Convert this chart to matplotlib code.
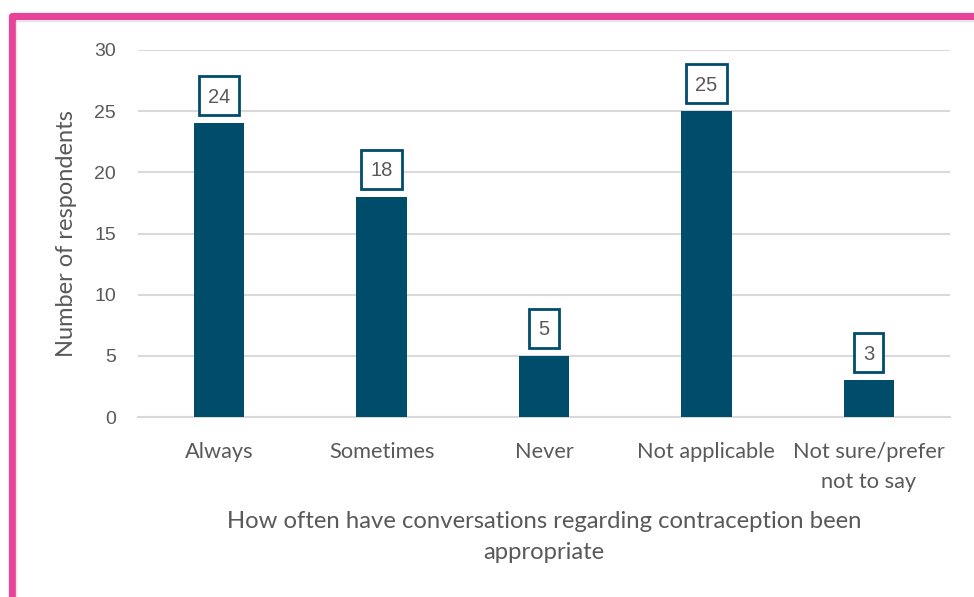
import matplotlib
matplotlib.use("Agg")
import matplotlib.pyplot as plt
from matplotlib.patches import Rectangle
from matplotlib.transforms import IdentityTransform

categories = ["Always", "Sometimes", "Never", "Not applicable", "Not sure/prefer\nnot to say"]
values = [24, 18, 5, 25, 3]
y_ticks = [0, 5, 10, 15, 20, 25, 30]

bar_color = "#004C6B"
text_color = "#595959"
grid_color = "#D9D9D9"
frame_color = "#E8439A"

W, H = 974, 597
fig = plt.figure(figsize=(W / 100, H / 100), dpi=100)
fig.patch.set_facecolor("white")

# pink frame around the chart (open on right/bottom, clipped by the canvas)
fig.patches.append(Rectangle((11.5 / W, -0.2), 1.2, (H - 15.5) / H + 0.2,
                             transform=fig.transFigure, fill=False,
                             ec=frame_color, lw=5.2, joinstyle="round"))
fig.patches.append(Rectangle((16 / W, -0.2), 1.2, (H - 21) / H + 0.2,
                             transform=fig.transFigure, fill=False,
                             ec="#E4E4E4", lw=1.0))

left, right, top, bottom = 138, 950, 50, 417
ax = fig.add_axes([left / W, (H - bottom) / H, (right - left) / W, (bottom - top) / H])

x = list(range(len(categories)))
ax.bar(x, values, width=0.31, color=bar_color, zorder=3)

ax.set_xlim(-0.5, len(categories) - 0.5)
ax.set_ylim(0, 30)
ax.set_yticks(y_ticks)
ax.set_xticks(x)
ax.set_xticklabels(categories, fontsize=15.7, color=text_color, family="Lato",
                   linespacing=1.62)
for lbl in ax.get_yticklabels():
    lbl.set_fontfamily("Liberation Sans")
ax.tick_params(axis="y", labelsize=14, colors=text_color, length=0, pad=16)
ax.tick_params(axis="x", length=0, pad=18)

ax.grid(axis="y", color=grid_color, lw=1.5, zorder=0)
ax.set_axisbelow(True)
for s in ["top", "right", "left"]:
    ax.spines[s].set_visible(False)
ax.spines["bottom"].set_color(grid_color)
ax.spines["bottom"].set_linewidth(1.5)

ax.set_ylabel("Number of respondents", fontsize=17, color=text_color,
              family="Lato", labelpad=12)
ax.set_xlabel("How often have conversations regarding contraception been\nappropriate",
              fontsize=17.2, color=text_color, family="Lato", labelpad=14,
              linespacing=1.56)

# value labels in outlined boxes just above each bar
renderer = fig.canvas.get_renderer()
gap, box_h, pad_x, cap_h = 8, 39, 9, 14
for xi, v in zip(x, values):
    t = ax.annotate(str(v), xy=(xi, v), xytext=(0, gap + box_h / 2 - cap_h / 2),
                    textcoords="offset pixels", ha="center", va="baseline",
                    fontsize=14.5, color=text_color, family="Liberation Sans",
                    zorder=6, annotation_clip=False)
    px, py = ax.transData.transform((xi, v))
    bw = t.get_window_extent(renderer).width + 2 * pad_x
    ax.add_patch(Rectangle((px - bw / 2, py + gap), bw, box_h,
                           transform=IdentityTransform(), fc="white",
                           ec=bar_color, lw=2.0, zorder=5, clip_on=False))

fig.savefig("out.png", dpi=100, facecolor="white")
